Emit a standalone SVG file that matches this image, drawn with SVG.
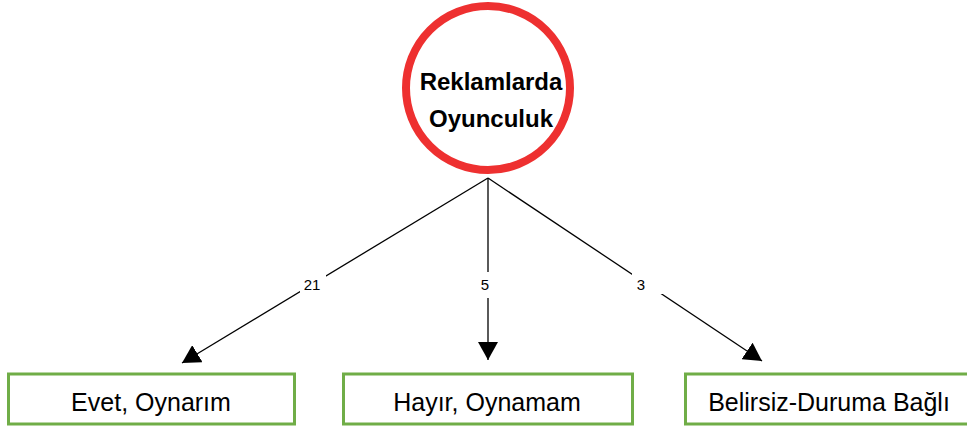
<svg xmlns="http://www.w3.org/2000/svg" width="967" height="427" viewBox="0 0 967 427">
  <style>
    .hub { fill: #ffffff; stroke: #ee3030; stroke-width: 8; }
    .hub-text { font-family: "Liberation Sans", Arial, sans-serif; font-weight: bold; font-size: 24px; fill: #000000; text-anchor: middle; }
    .box { fill: #ffffff; stroke: #70ad47; stroke-width: 3; }
    .box-text { font-family: "Liberation Sans", Arial, sans-serif; font-size: 25px; fill: #000000; text-anchor: middle; }
    .edge { stroke: #000000; stroke-width: 1.3; fill: none; marker-end: url(#arrow); }
    .edge-bg { fill: #ffffff; }
    .edge-label { font-family: "Liberation Sans", Arial, sans-serif; font-size: 15px; fill: #000000; text-anchor: middle; }
  </style>
  <defs>
    <marker id="arrow" markerUnits="userSpaceOnUse" markerWidth="20" markerHeight="20" refX="18" refY="10" orient="auto">
      <path d="M0,0 L18,10 L0,20 Z" fill="#000000"/>
    </marker>
  </defs>

  <rect width="967" height="427" fill="#ffffff"/>

  <!-- connectors with their count labels -->
  <g id="connectors">
    <line class="edge" x1="488" y1="178" x2="182" y2="363"/>
    <line class="edge" x1="488" y1="178" x2="488" y2="360"/>
    <line class="edge" x1="488" y1="178" x2="762" y2="361"/>
    <rect class="edge-bg" x="300" y="272" width="26" height="24"/>
    <text class="edge-label" x="312" y="290">21</text>
    <rect class="edge-bg" x="476" y="272" width="22" height="26"/>
    <text class="edge-label" x="485" y="290">5</text>
    <rect class="edge-bg" x="632" y="272" width="32" height="22"/>
    <text class="edge-label" x="641" y="290">3</text>
  </g>

  <g id="node-reklamlarda-oyunculuk">
    <circle class="hub" cx="488" cy="88" r="82"/>
    <text class="hub-text" x="491" y="90">Reklamlarda</text>
    <text class="hub-text" x="491" y="127">Oyunculuk</text>
  </g>

  <g id="node-evet">
    <rect class="box" x="8.5" y="374" width="286" height="50"/>
    <text class="box-text" x="151" y="411">Evet, Oynarım</text>
  </g>

  <g id="node-hayir">
    <rect class="box" x="343.5" y="374" width="289" height="50"/>
    <text class="box-text" x="487" y="411">Hayır, Oynamam</text>
  </g>

  <g id="node-belirsiz">
    <rect class="box" x="685.5" y="374" width="290" height="50"/>
    <text class="box-text" x="829" y="411">Belirsiz-Duruma Bağlı</text>
  </g>
</svg>
